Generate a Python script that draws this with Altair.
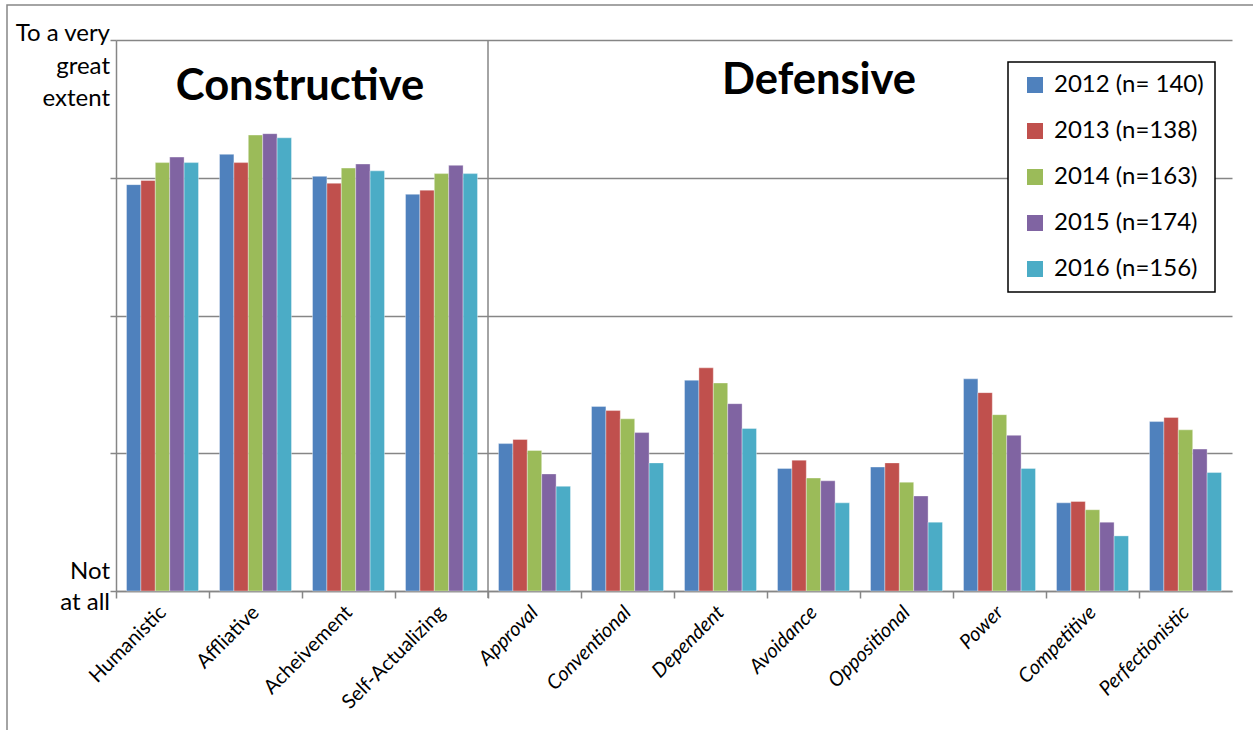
import altair as alt
import pandas as pd

# Culture styles, grouped into constructive and defensive clusters
constructive = ["Humanistic", "Affliative", "Acheivement", "Self-Actualizing"]
defensive = ["Approval", "Conventional", "Dependent", "Avoidance",
             "Oppositional", "Power", "Competitive", "Perfectionistic"]
categories = constructive + defensive

years = ["2012 (n= 140)", "2013 (n=138)", "2014 (n=163)", "2015 (n=174)", "2016 (n=156)"]
colors = ["#4F81BD", "#C0504D", "#9BBB59", "#8064A2", "#4BACC6"]

# Mean scores on a 1 (Not at all) to 5 (To a very great extent) scale, one list per year
v2012 = [3.95, 4.17, 4.01, 3.88, 2.07, 2.34, 2.53, 1.89, 1.90, 2.54, 1.64, 2.23]
v2013 = [3.98, 4.11, 3.96, 3.91, 2.10, 2.31, 2.62, 1.95, 1.93, 2.44, 1.65, 2.26]
v2014 = [4.11, 4.31, 4.07, 4.03, 2.02, 2.25, 2.51, 1.82, 1.79, 2.28, 1.59, 2.17]
v2015 = [4.15, 4.32, 4.10, 4.09, 1.85, 2.15, 2.36, 1.80, 1.69, 2.13, 1.50, 2.03]
v2016 = [4.11, 4.29, 4.05, 4.03, 1.76, 1.93, 2.18, 1.64, 1.50, 1.89, 1.40, 1.86]
series = [v2012, v2013, v2014, v2015, v2016]

rows = []
for year, vals in zip(years, series):
    for cat, v in zip(categories, vals):
        rows.append({"style": cat, "year": year, "score": v})
df = pd.DataFrame(rows)

# single-row source for annotations, so each is drawn once
one = pd.DataFrame([{"k": 0}])

W, H = 1116, 551
step = W / len(categories)
FONT = "Lato"
GRID = "#868686"

x_enc = alt.X(
    "style:N",
    sort=categories,
    title=None,
    scale=alt.Scale(paddingInner=0.226, paddingOuter=0.113),
    axis=alt.Axis(
        labelAngle=-45,
        labelAlign="right",
        labelBaseline="middle",
        labelFont=FONT,
        labelFontSize=20,
        labelColor="black",
        labelPadding=11,
        labelLimit=300,
        labelFontStyle=alt.condition(
            "indexof(" + str(defensive) + ", datum.value) >= 0",
            alt.value("italic"),
            alt.value("normal"),
        ),
        tickOffset=-step / 2,
        labelOffset=step / 2,
        tickColor=GRID,
        tickWidth=1.5,
        tickSize=7,
        domainColor=GRID,
        domainWidth=1.5,
        grid=False,
    ),
)

y_scale = alt.Scale(domain=[1, 5], nice=False, zero=False)

bars = alt.Chart(df).mark_bar(stroke="white", strokeWidth=0.6, strokeOpacity=0.6).encode(
    x=x_enc,
    xOffset=alt.XOffset("year:N", sort=years),
    y=alt.Y(
        "score:Q",
        scale=y_scale,
        title=None,
        axis=alt.Axis(
            values=[1, 2, 3, 4, 5],
            labels=False,
            grid=True,
            gridColor=GRID,
            gridWidth=1.5,
            tickColor=GRID,
            tickWidth=1.5,
            tickSize=6,
            domainColor=GRID,
            domainWidth=1.5,
        ),
    ),
    y2=alt.datum(1),
    color=alt.Color(
        "year:N",
        sort=years,
        scale=alt.Scale(domain=years, range=colors),
        legend=alt.Legend(
            title=None,
            orient="none",
            legendX=892,
            legendY=22,
            fillColor="white",
            strokeColor="black",
            padding=11,
            symbolType="square",
            symbolSize=256,
            symbolStrokeWidth=0,
            symbolOffset=4,
            labelFont=FONT,
            labelFontSize=24,
            labelColor="black",
            labelOffset=7,
            rowPadding=22,
            labelLimit=300,
        ),
    ),
)

# Divider between the constructive and defensive clusters
divider = alt.Chart(one).mark_rule(color=GRID, strokeWidth=1.5).encode(
    x=alt.value(step * len(constructive)),
    y=alt.value(0),
    y2=alt.value(H + 7),
)

# Scale end labels
top_label = alt.Chart(one).mark_text(
    align="right", baseline="top", font=FONT, fontSize=24, fontWeight="normal",
    lineHeight=32.5, lineBreak="\n", fill="black", dy=-18,
).encode(x=alt.value(-6), y=alt.datum(5, scale=y_scale), text=alt.value("To a very\ngreat\nextent"))

bottom_label = alt.Chart(one).mark_text(
    align="right", baseline="top", font=FONT, fontSize=24, fontWeight="normal",
    lineHeight=30.5, lineBreak="\n", fill="black", dy=-31,
).encode(x=alt.value(-6), y=alt.datum(1, scale=y_scale), text=alt.value("Not\nat all"))

# Cluster headings
head_c = alt.Chart(one).mark_text(
    font=FONT, fontSize=43.5, fontWeight="bold", fill="black", baseline="middle"
).encode(x=alt.value(184), y=alt.value(47), text=alt.value("Constructive"))

head_d = alt.Chart(one).mark_text(
    font=FONT, fontSize=43.5, fontWeight="bold", fill="black", baseline="middle"
).encode(x=alt.value(703), y=alt.value(41), text=alt.value("Defensive"))

# Outer frame
frame = alt.Chart(one).mark_rect(fill=None, stroke=GRID, strokeWidth=1.5).encode(
    x=alt.value(-109), x2=alt.value(W + 40), y=alt.value(-35), y2=alt.value(H + 160)
)

chart = alt.layer(frame, divider, bars, top_label, bottom_label, head_c, head_d).properties(
    width=W,
    height=H,
    autosize=alt.AutoSizeParams(type="none"),
    padding={"left": 116, "top": 40, "right": 21, "bottom": 139},
    background="white",
).configure_view(stroke=None).configure_legend(strokeWidth=1.5)

chart.save("out.html", embed_options={"renderer": "svg", "actions": False})
